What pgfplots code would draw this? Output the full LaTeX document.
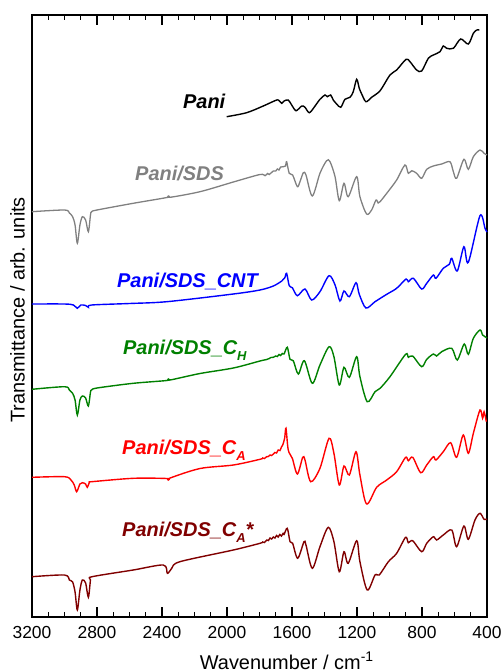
\documentclass[border=0pt]{standalone}
\usepackage{pgfplots}
\pgfplotsset{compat=1.18}
\usepackage{fontspec}
\setmainfont{Liberation Sans}
\definecolor{sgray}{RGB}{128,128,128}
\definecolor{sgreen}{RGB}{0,128,0}
\definecolor{sdark}{RGB}{128,0,0}
\begin{document}
\begin{tikzpicture}
\begin{axis}[name=ax, scale only axis, width=455bp, height=602bp,
  x dir=reverse, xmin=400, xmax=3200,
  y dir=reverse, ymin=15, ymax=617,
  xtick={400,800,...,3200}, minor x tick num=3,
  ytick=\empty,
  tick align=inside, xtick pos=both,
  major tick length=10bp, minor tick length=5bp,
  axis line style={line width=1.3bp},
  every tick/.style={line width=1.1bp, black},
  /pgf/number format/assume math mode=true,
  /pgf/number format/1000 sep={},
  xticklabel style={font=\fontsize{17.5}{17.5}\selectfont, inner sep=0pt, yshift=-9.5bp},
  xlabel={Wavenumber / cm\textsuperscript{-1}},
  xlabel style={font=\fontsize{20}{20}\selectfont, at={(axis description cs:0.56,0)}, anchor=north, inner sep=0pt, yshift=-35bp},
  ylabel={Transmittance / arb. units},
  ylabel style={font=\fontsize{20}{20}\selectfont, at={(axis description cs:-0.032,0.51)}, anchor=center, rotate=0},
  clip=false,
  every axis plot/.append style={smooth, tension=0.5, line width=1.4bp},
]
% Pani
\addplot[black] coordinates {
(2002,116.7)(1879,112.7)(1777,106)(1705,100.7)(1684,100)(1663,103.3)(1649,101)(1623,100)(1602,105)(1575,110.7)(1540,106)(1520,107.3)(1493,112.7)(1458,106)(1428,99.3)(1397,95)(1383,96.7)(1362,95)(1346,100)(1325,104)(1300,107.3)(1274,99.3)(1243,97.3)(1223,91.7)(1202,79.3)(1186,88.3)(1171,94)(1145,101.7)(1110,97.3)(1058,90.7)(997,75)(956,70)(898,59.3)(874,61.7)(833,70)(802,71)(761,58.3)(730,55)(689,51.7)(669,46)(648,48.3)(607,48.3)(562,39)(515,44)(484,33.3)(463,30)(447,30)
};
% Pani/SDS
\addplot[sgray, line width=1.3bp] coordinates {
(3200,211.7)(3000,210)(2970,213)(2950,216.7)(2935,225)(2921,243.3)(2905,225)(2890,216.7)(2870,220)(2853,231.7)(2840,215)(2833,211.7)(2800,210)(2577,203.3)(2370,197.5)(2361,196)(2350,197.3)(2166,191.7)(1961,182)(1797,174.5)(1766,175.7)(1750,173.5)(1740,174.5)(1715,171)(1700,171)(1690,169)(1680,170)(1670,167)(1653,166.7)(1640,166)(1633,161.7)(1617,173.3)(1596,175)(1567,186.7)(1551,181.7)(1530,172.7)(1514,175)(1475,196)(1428,173.3)(1387,160.7)(1366,161.7)(1335,176.7)(1309,200.7)(1280,183.3)(1254,196.7)(1202,176.7)(1182,196.7)(1141,214)(1110,210)(1083,200)(1070,203)(1058,201.7)(1017,193.3)(956,180)(905,165)(884,173.3)(863,170.7)(833,173.3)(802,178.3)(771,169.3)(730,166)(679,164)(628,161.7)(607,171.7)(587,178.3)(542,159.3)(515,169.3)(484,156.7)(443,150)(418,153.3)(400,155)
};
% Pani/SDS_CNT
\addplot[blue] coordinates {
(3200,304)(3000,304)(2945,305)(2921,308.3)(2900,305)(2870,305.5)(2853,307.3)(2833,305)(2600,303.5)(2371,301.7)(1961,294)(1797,290)(1715,286)(1663,281)(1645,278)(1633,273.3)(1617,285.7)(1598,287.7)(1567,295.7)(1520,289)(1479,300)(1428,291.7)(1372,275.7)(1335,285)(1305,301)(1280,291)(1247,296.7)(1206,282.7)(1186,294.3)(1145,308)(1089,301.7)(1017,294.3)(956,288.3)(898,279)(884,281.7)(853,278.3)(802,289)(771,283.3)(730,275)(714,278.3)(669,268.3)(632,264.3)(617,258.3)(583,271)(542,246.7)(515,262.3)(443,215.7)(412,228.3)(400,232)
};
% Pani/SDS_C_H
\addplot[sgreen] coordinates {
(3200,389.3)(3000,386.7)(2970,390)(2950,393.3)(2935,400)(2921,415)(2905,400)(2890,396)(2870,398)(2853,406)(2840,392)(2833,390)(2800,388)(2577,383.3)(2370,380.5)(2361,379)(2350,380)(2166,373.5)(1961,368)(1797,361)(1756,359.5)(1740,358.5)(1730,357.5)(1715,357.3)(1700,356)(1690,356.5)(1680,354.5)(1670,355.5)(1660,353.5)(1649,354)(1629,347.3)(1612,359.3)(1592,360.7)(1561,374)(1524,360.7)(1475,383.3)(1428,365)(1372,346.7)(1342,356.7)(1309,385)(1280,367.3)(1247,377.3)(1202,356.7)(1182,376.7)(1137,401.7)(1089,391.7)(1058,388.3)(997,376.7)(901,354.3)(884,357.3)(857,356)(802,366.7)(771,359.3)(730,354)(710,356)(679,351.7)(617,348.3)(583,360)(540,344)(515,354.3)(484,338.3)(443,330)(427,335)(412,336.7)(400,338)
};
% Pani/SDS_C_A
\addplot[red] coordinates {
(3200,477.3)(3000,476.7)(2960,480)(2940,485)(2925,491.7)(2905,484)(2890,482.7)(2870,484)(2860,487.3)(2845,482)(2833,481.7)(2577,478.3)(2370,478.5)(2361,480)(2350,478)(2166,468.5)(1961,465)(1797,459.3)(1780,458)(1770,458.5)(1756,456.7)(1745,456.5)(1735,455)(1725,455.5)(1715,454)(1705,452.5)(1695,453)(1685,450)(1674,450.5)(1665,447)(1657,445)(1645,438)(1637,428.3)(1623,450)(1598,458.3)(1567,474)(1534,457.3)(1520,460)(1485,481.7)(1428,468.3)(1372,438.3)(1342,453.3)(1309,485)(1280,466)(1247,475)(1206,451.7)(1182,475)(1141,504)(1079,487.3)(1017,480)(956,471.7)(901,457.3)(884,460.7)(857,457.3)(808,472.7)(771,465)(730,456.7)(714,460)(669,451.7)(624,442.7)(587,457.3)(546,435)(515,453.3)(484,433.3)(443,410)(427,418.3)(418,411.7)(404,421.7)
};
% Pani/SDS_C_A*
\addplot[sdark] coordinates {
(3200,576.7)(3000,575)(2970,580)(2950,582)(2935,592)(2921,610)(2905,590)(2890,580)(2870,583)(2853,597.3)(2840,580)(2830,576.7)(2577,570)(2392,565)(2367,573.3)(2340,568.3)(2290,561.7)(1961,550)(1797,543.3)(1780,542)(1770,542.5)(1755,540)(1745,540.5)(1735,538)(1725,539)(1715,537)(1705,538)(1695,535.5)(1685,537)(1675,534.5)(1665,536)(1655,533.5)(1649,534.5)(1629,528.3)(1612,541.7)(1596,543.3)(1565,558.3)(1526,541.7)(1514,545)(1475,568.3)(1428,546.7)(1377,527.3)(1342,541.7)(1309,571.7)(1280,551.7)(1254,563.3)(1202,540.7)(1182,561.7)(1137,590)(1089,575)(1063,575)(1007,561.7)(956,553.3)(901,537.3)(884,542.7)(857,540.7)(802,551.7)(771,543.3)(730,536.7)(710,540)(669,535)(617,530)(587,546.7)(542,526)(515,539.3)(474,520)(443,513.3)(418,519.3)(400,519)
};
\begin{scope}[every node/.style={anchor=base west, inner sep=0pt, font=\fontsize{20}{20}\selectfont\bfseries\itshape}]
\node[black] at (axis cs:2271,108.5) {Pani};
\node[sgray] at (axis cs:2566,180) {Pani/SDS};
\node[blue] at (axis cs:2677,287) {Pani/SDS\_CNT};
\node[sgreen] at (axis cs:2640,354) {Pani/SDS\_C\raisebox{-6bp}{\fontsize{13}{13}\selectfont H}};
\node[red] at (axis cs:2646,454) {Pani/SDS\_C\raisebox{-6bp}{\fontsize{13}{13}\selectfont A}};
\node[sdark] at (axis cs:2646,536) {Pani/SDS\_C\raisebox{-6bp}{\fontsize{13}{13}\selectfont A}*};
\end{scope}
\end{axis}
\pgfresetboundingbox
\path[use as bounding box] ([xshift=-32bp,yshift=-55bp]ax.south west) rectangle ([xshift=17bp,yshift=15bp]ax.north east);
\end{tikzpicture}
\end{document}
